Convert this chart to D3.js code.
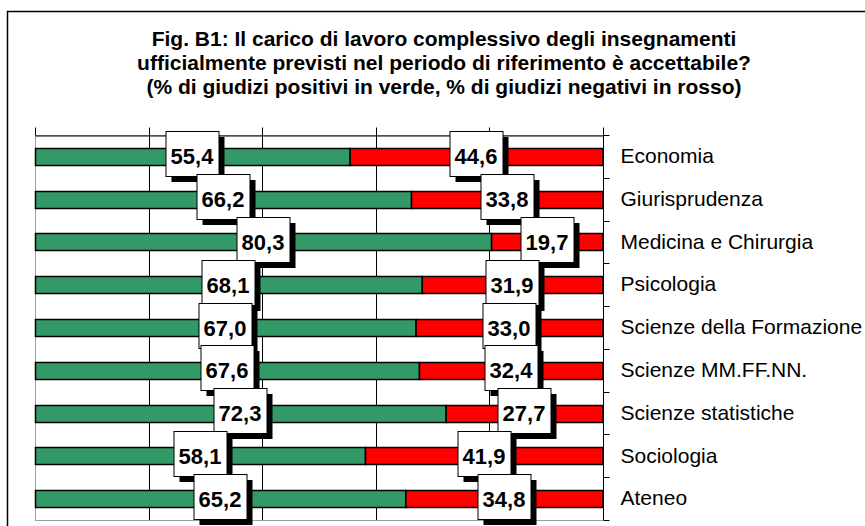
<!DOCTYPE html>
<html>
<head>
<meta charset="utf-8">
<style>
  body { margin: 0; background: #fff; }
  svg { display: block; font-family: "Liberation Sans", Arial, sans-serif; }
</style>
</head>
<body>
<svg width="865" height="526"></svg>
<script src="https://d3js.org/d3.v7.min.js"></script>
<script>

var categories = ["Economia", "Giurisprudenza", "Medicina e Chirurgia", "Psicologia",
    "Scienze della Formazione", "Scienze MM.FF.NN.", "Scienze statistiche", "Sociologia", "Ateneo"];
var positivi = [55.4, 66.2, 80.3, 68.1, 67.0, 67.6, 72.3, 58.1, 65.2];
var negativi = [44.6, 33.8, 19.7, 31.9, 33.0, 32.4, 27.7, 41.9, 34.8];
var xTicks = [0, 20, 40, 60, 80, 100];
var titleLines = [
    "Fig. B1: Il carico di lavoro complessivo degli insegnamenti",
    "ufficialmente previsti nel periodo di riferimento è accettabile?",
    "(% di giudizi positivi in verde, % di giudizi negativi in rosso)"
];

var svg = d3.select("svg"),
    plot = {left: 35, right: 603, top: 135, bottom: 520};

var fmt = function(v) { return v.toFixed(1).replace(".", ","); };

// outer frame (runs off the right and bottom edges)
svg.append("rect")
    .attr("x", 7.5).attr("y", 11.5)
    .attr("width", 900).attr("height", 600)
    .attr("fill", "#fff")
    .attr("stroke", "#000")
    .attr("stroke-width", 1.5);

// title
svg.append("g").selectAll("text")
    .data(titleLines)
    .join("text")
    .attr("x", 444)
    .attr("y", function(d, i) { return 46 + i * 24; })
    .attr("text-anchor", "middle")
    .style("font-weight", "bold")
    .style("font-size", "21px")
    .text(function(d) { return d; });

var x = d3.scaleLinear()
    .domain([0, 100])
    .range([plot.left, plot.right]);

var y = d3.scaleBand()
    .domain(categories)
    .range([plot.top, plot.bottom])
    .paddingInner(0.6)
    .paddingOuter(0.3);

// plot area border (grey)
svg.append("rect")
    .attr("x", plot.left + 0.5).attr("y", plot.top + 0.5)
    .attr("width", plot.right - plot.left).attr("height", plot.bottom - plot.top)
    .attr("fill", "none")
    .attr("stroke", "#a0a0a0");

// vertical gridlines
svg.append("g").selectAll("line")
    .data(xTicks.slice(1, -1))
    .join("line")
    .attr("x1", function(d) { return Math.round(x(d)) + 0.5; })
    .attr("x2", function(d) { return Math.round(x(d)) + 0.5; })
    .attr("y1", plot.top)
    .attr("y2", plot.bottom)
    .attr("stroke", "#000");

// top value axis, no labels
var xAxis = svg.append("g")
    .attr("transform", "translate(0," + (plot.top + 0.5) + ")")
    .call(d3.axisTop(x).tickValues(xTicks).tickSize(8).tickSizeOuter(0).tickFormat(""));
xAxis.selectAll("line, path").attr("stroke", "#000");
xAxis.selectAll(".tick").attr("transform", function(d) { return "translate(" + (Math.round(x(d)) + 0.5) + ",0)"; });

// bars
var rows = categories.map(function(c, i) {
    return {cat: c, pos: positivi[i], neg: negativi[i]};
});

var bars = svg.append("g");
bars.selectAll(".pos")
    .data(rows)
    .join("rect")
    .attr("class", "pos")
    .attr("x", x(0) + 0.5)
    .attr("y", function(d) { return Math.round(y(d.cat)) + 0.5; })
    .attr("width", function(d) { return x(d.pos) - x(0); })
    .attr("height", Math.round(y.bandwidth()))
    .attr("fill", "#339966")
    .attr("stroke", "#000")
    .attr("stroke-width", 1.5);

bars.selectAll(".neg")
    .data(rows)
    .join("rect")
    .attr("class", "neg")
    .attr("x", function(d) { return x(d.pos) + 0.5; })
    .attr("y", function(d) { return Math.round(y(d.cat)) + 0.5; })
    .attr("width", function(d) { return x(d.pos + d.neg) - x(d.pos) - 0.5; })
    .attr("height", Math.round(y.bandwidth()))
    .attr("fill", "#ff0000")
    .attr("stroke", "#000")
    .attr("stroke-width", 1.5);

// right category axis
var step = y.step();
var yAxis = svg.append("g")
    .attr("transform", "translate(" + (plot.right + 0.5) + ",0)")
    .call(d3.axisRight(y).tickSize(0).tickPadding(17).tickSizeOuter(0));
yAxis.select(".domain").attr("stroke", "#000").attr("d", "M0," + plot.top + "V" + plot.bottom);
yAxis.selectAll("text")
    .style("font-size", "21px")
    .attr("fill", "#000");

yAxis.selectAll(".bound")
    .data(d3.range(categories.length + 1))
    .join("line")
    .attr("class", "bound")
    .attr("x1", 0).attr("x2", 6)
    .attr("y1", function(i) { return Math.round(plot.top + i * step) + 0.5; })
    .attr("y2", function(i) { return Math.round(plot.top + i * step) + 0.5; })
    .attr("stroke", "#000");

// data labels: white boxes with a drop shadow
var labels = [];
rows.forEach(function(d) {
    labels.push({cat: d.cat, v: d.pos, cx: x(d.pos / 2)});
});
rows.forEach(function(d) {
    labels.push({cat: d.cat, v: d.neg, cx: x(d.pos + d.neg / 2)});
});

var boxW = 53, boxH = 45;
var lab = svg.append("g").selectAll("g")
    .data(labels)
    .join("g")
    .attr("transform", function(d) {
        var cy = y(d.cat) + y.bandwidth() / 2;
        return "translate(" + Math.round(d.cx) + "," + Math.round(cy) + ")";
    });

lab.append("rect")
    .attr("x", -boxW / 2 + 6).attr("y", -25 + 6)
    .attr("width", boxW).attr("height", boxH)
    .attr("fill", "#000");

lab.append("rect")
    .attr("x", -boxW / 2 + 0.5).attr("y", -25 + 0.5)
    .attr("width", boxW).attr("height", boxH)
    .attr("fill", "#fff")
    .attr("stroke", "#000");

lab.append("text")
    .attr("x", 0)
    .attr("y", 8)
    .attr("text-anchor", "middle")
    .style("font-weight", "bold")
    .style("font-size", "22px")
    .text(function(d) { return fmt(d.v); });

</script>
</body>
</html>
